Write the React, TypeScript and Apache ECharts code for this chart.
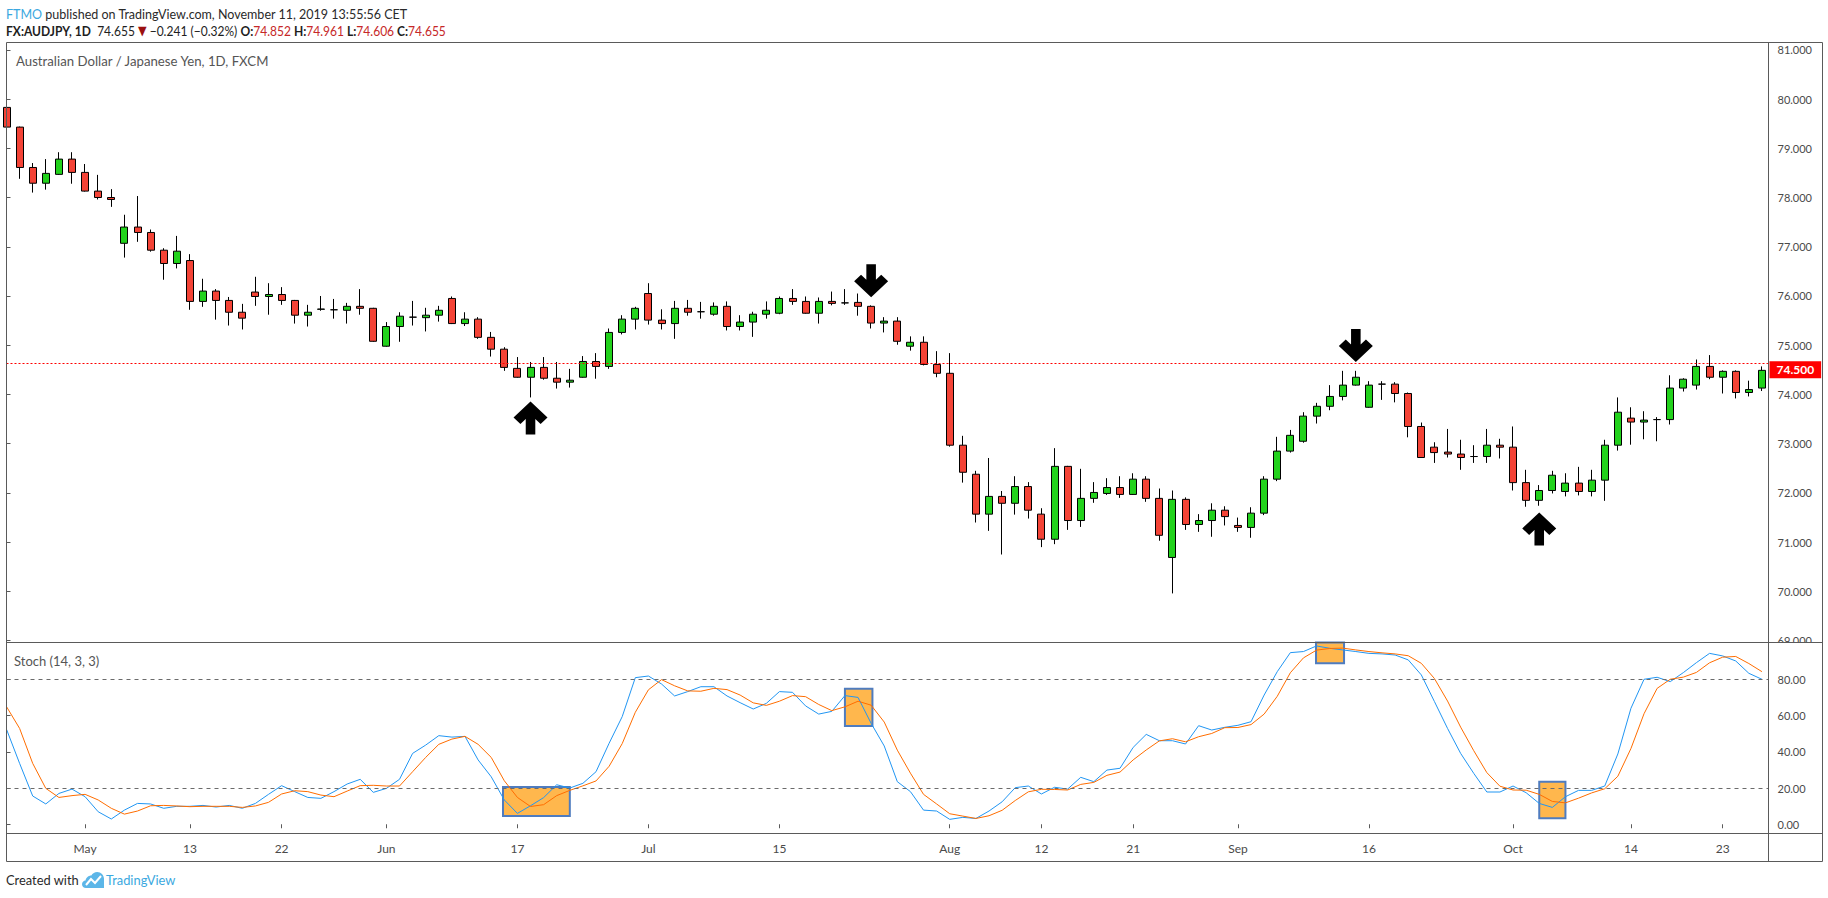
import React, { useEffect, useRef } from 'react';
import * as echarts from 'echarts';

// ---------- data ----------
const tickIdx = [6, 14, 21, 29, 39, 49, 59, 72, 79, 86, 94, 104, 115, 124, 131];
const tickText = ['May', '13', '22', 'Jun', '17', 'Jul', '15', 'Aug', '12', '21', 'Sep', '16', 'Oct', '14', '23'];

const opens = [79.83,79.43,78.61,78.29,78.47,78.78,78.51,78.13,78.00,77.07,77.40,77.29,76.93,76.66,76.72,75.89,76.10,75.91,75.67,76.08,75.99,76.03,75.91,75.61,75.73,75.72,75.71,75.79,75.75,74.98,75.38,75.57,75.56,75.61,75.95,75.44,75.53,75.16,74.92,74.53,74.35,74.55,74.33,74.25,74.35,74.67,74.57,75.26,75.53,76.05,75.51,75.44,75.75,75.68,75.63,75.79,75.38,75.47,75.63,75.65,75.95,75.89,75.65,75.89,75.86,75.87,75.79,75.45,75.49,74.98,75.06,74.61,74.43,72.97,72.38,71.57,71.93,71.79,72.13,71.57,71.06,72.54,71.44,71.89,71.99,72.11,71.97,72.28,71.89,70.69,71.87,71.36,71.44,71.65,71.34,71.30,71.59,72.28,72.85,73.05,73.56,73.76,73.96,74.19,73.74,74.21,74.21,74.02,73.35,72.93,72.83,72.79,72.74,72.74,72.97,72.93,72.21,71.85,72.05,72.03,72.20,72.03,72.26,72.97,73.52,73.44,73.49,73.49,74.13,74.19,74.57,74.35,74.47,74.04,74.13];
const closes = [79.43,78.61,78.29,78.49,78.78,78.51,78.13,78.00,77.96,77.40,77.29,76.93,76.66,76.91,75.89,76.10,75.91,75.67,75.55,75.99,76.03,75.91,75.61,75.67,75.735,75.72,75.79,75.75,75.08,75.38,75.59,75.57,75.61,75.71,75.44,75.53,75.16,74.92,74.55,74.35,74.55,74.33,74.25,74.29,74.67,74.57,75.26,75.53,75.75,75.51,75.44,75.75,75.67,75.68,75.79,75.38,75.47,75.63,75.71,75.95,75.89,75.65,75.89,75.85,75.86,75.79,75.45,75.49,75.08,75.06,74.61,74.43,72.97,72.42,71.57,71.93,71.79,72.13,71.65,71.06,72.54,71.44,71.89,72.01,72.11,71.97,72.28,71.89,71.14,71.87,71.36,71.44,71.65,71.52,71.30,71.59,72.28,72.85,73.17,73.56,73.76,73.96,74.19,74.35,74.19,74.21,74.02,73.35,72.72,72.82,72.79,72.72,72.74,72.97,72.93,72.21,71.85,72.05,72.36,72.20,72.03,72.26,72.97,73.64,73.44,73.48,73.49,74.13,74.31,74.57,74.35,74.47,74.04,74.10,74.49];
const lows = [79.42,78.38,78.10,78.16,78.46,78.28,78.12,77.96,77.81,76.78,77.10,76.90,76.33,76.56,75.72,75.78,75.52,75.40,75.32,75.80,75.62,75.82,75.44,75.38,75.70,75.54,75.44,75.62,75.07,74.97,75.07,75.40,75.28,75.48,75.43,75.39,75.13,74.77,74.48,74.34,73.94,74.30,74.12,74.14,74.34,74.32,74.52,75.22,75.32,75.42,75.32,75.13,75.60,75.54,75.60,75.30,75.30,75.17,75.54,75.63,75.82,75.64,75.44,75.81,75.82,75.60,75.34,75.26,75.01,74.89,74.59,74.35,72.94,72.21,71.40,71.23,70.75,71.56,71.48,70.90,70.96,71.25,71.31,71.80,71.96,71.90,71.96,71.82,71.03,69.96,71.25,71.21,71.11,71.34,71.21,71.09,71.55,72.24,72.82,73.02,73.41,73.68,73.88,74.18,73.73,73.89,73.84,73.13,72.71,72.61,72.72,72.47,72.61,72.61,72.70,72.05,71.72,71.74,71.99,71.93,71.95,71.93,71.84,72.86,72.98,73.09,73.05,73.39,74.06,74.10,74.31,74.02,73.92,73.96,74.07];
const highs = [79.86,79.44,78.70,78.78,78.92,78.92,78.68,78.46,78.17,77.65,78.03,77.35,76.97,77.22,76.85,76.35,76.14,75.98,75.84,76.39,76.26,76.18,75.92,75.82,76.00,75.94,75.86,76.14,75.76,75.47,75.67,75.90,75.76,75.80,75.99,75.67,75.57,75.27,74.96,74.76,74.66,74.76,74.66,74.52,74.78,74.84,75.34,75.61,75.78,76.26,75.73,75.90,75.92,75.88,75.87,75.89,75.61,75.68,75.89,75.99,76.14,75.99,75.97,76.09,76.14,76.05,75.81,75.57,75.57,75.18,75.18,74.88,74.84,73.16,72.45,72.71,72.04,72.34,72.22,71.69,72.91,72.55,72.49,72.22,72.30,72.34,72.40,72.34,72.09,72.05,71.91,71.57,71.79,71.73,71.50,71.71,72.34,73.14,73.28,73.64,73.83,74.19,74.48,74.48,74.27,74.27,74.25,74.04,73.43,73.03,73.30,73.08,72.97,73.30,73.10,73.35,72.47,72.16,72.45,72.40,72.53,72.47,73.08,73.94,73.74,73.66,73.54,74.39,74.33,74.71,74.80,74.49,74.49,74.28,74.57];

const stochK = [52.4,33.6,15.6,11.2,17.0,19.4,15.2,6.9,2.9,7.8,11.5,11.2,8.8,9.9,9.9,10.4,9.5,10.4,8.8,11.5,16.5,21.3,18.0,14.8,14.3,18.0,22.2,24.8,17.6,19.8,24.8,39.1,43.7,48.9,48.1,48.5,35.5,26.2,13.4,6.0,10.2,14.7,21.8,20.0,22.6,29.0,44.7,59.4,80.9,81.8,77.4,70.8,73.2,75.9,75.9,70.8,67.1,63.6,66.7,73.2,72.8,65.3,60.8,62.3,71.0,70.0,55.7,43.2,23.5,18.0,7.8,7.3,2.7,3.8,3.2,7.3,12.4,20.2,21.1,16.7,20.4,19.4,25.9,23.5,29.9,30.9,42.4,49.6,46.1,46.1,44.3,54.4,52.0,53.5,54.6,56.6,71.3,84.2,94.7,95.3,98.4,97.1,96.2,95.3,94.3,94.0,93.4,90.7,82.4,67.7,52.9,39.1,28.1,17.8,17.8,21.1,17.4,11.5,9.3,15.2,18.7,18.7,21.1,38.8,64.0,80.0,81.1,78.7,83.7,89.2,94.3,92.9,90.1,83.3,80.0];
const stochD = [64.9,52.9,33.6,19.8,14.8,15.8,16.5,13.4,8.8,5.6,7.3,10.2,10.4,10.1,9.7,9.9,9.9,9.9,9.3,10.1,12.1,16.7,18.5,18.0,16.1,15.2,18.3,21.3,21.5,21.1,21.1,29.0,36.9,44.1,47.0,48.5,44.1,36.9,24.0,14.8,9.8,10.8,15.8,18.7,21.2,23.9,32.0,44.5,61.8,74.2,79.8,76.4,73.6,73.4,75.0,74.3,71.3,67.0,65.6,67.9,71.0,70.4,66.1,62.7,64.8,67.9,65.7,56.4,40.9,28.2,16.5,11.2,5.8,4.5,3.2,4.7,7.7,13.1,17.9,19.3,19.2,18.9,22.0,23.1,27.0,28.8,35.5,41.0,46.0,47.2,45.5,48.3,50.1,53.3,53.4,55.0,60.8,70.6,83.6,91.8,96.1,97.0,97.2,96.2,95.3,94.6,94.0,93.0,88.8,80.4,68.0,53.6,40.6,28.5,21.0,18.9,18.8,16.5,12.6,11.8,14.4,17.3,19.6,26.5,41.8,61.0,75.0,80.0,81.2,83.8,89.1,92.2,92.6,88.7,84.2];

const priceTicks = [69, 70, 71, 72, 73, 74, 75, 76, 77, 78, 79, 80, 81];
const stochTicks = [0, 20, 40, 60, 80];
const stochLevels = [80, 20];
const lastPrice = 74.64;
const priceTag = 74.5;
// arrow annotations: [bar index, price]
const upArrows = [[40, 73.52], [117, 71.27]];
const downArrows = [[66, 76.31], [103, 74.995]];
// highlighted boxes on the oscillator: [fromIndex, topValue, toIndex, bottomValue]
const boxes = [[37.9, 20.5, 43.0, 4.5], [64.0, 74.8, 66.1, 54.2], [99.96, 100.4, 102.1, 88.8], [117.0, 23.5, 119.0, 3.3]];

// ---------- styling ----------
const FONT = "Lato, 'Liberation Sans', Arial, sans-serif";
const AXIS_TXT = '#4a4a4a';
const FRAME = '#5a5a5a';
const UP = '#22d21c';
const DOWN = '#f44336';
const K_COLOR = '#2196f3';
const D_COLOR = '#ff6d00';

const UP_ARROW = 'path://M17 0 L33 16 L26.5 22.5 L21.5 17.5 L21.5 33 L12.5 33 L12.5 17.5 L7.5 22.5 L1 16 Z';
const DOWN_ARROW = 'path://M17 33 L33 17 L26.5 10.5 L21.5 15.5 L21.5 0 L12.5 0 L12.5 15.5 L7.5 10.5 L1 17 Z';

const LOGO_D = 'M4 16 C1.6 16 0 14.3 0 12.2 C0 10.2 1.5 8.6 3.5 8.5 C4 5.5 6.4 3.4 9.3 3.4 C10.6 1.3 12.8 0 15.2 0 C18.9 0 22 3 22 6.8 L22 16 Z';
let registered = false;
function registerShapes() {
  if (registered) return;
  registered = true;
  echarts.graphic.registerShape('tvlogo', echarts.graphic.extendPath(LOGO_D, {}) as any);
}

const GRID_LEFT = 6.5;
const GRID_RIGHT = 1768.5;
const X_MAX = 134.5;

export default function App() {
  const ref = useRef<HTMLDivElement>(null);
  useEffect(() => {
    if (!ref.current) return;
    registerShapes();
    const chart = echarts.init(ref.current, null, { renderer: 'svg' });
    const candleData = opens.map((o, i) => [i, o, closes[i], lows[i], highs[i]]);
    const kData = stochK.map((v, i) => [i, v]);
    const dData = stochD.map((v, i) => [i, v]);
    const labelFor = (v: number) => {
      const j = tickIdx.indexOf(Math.round(v));
      return j >= 0 ? tickText[j] : '';
    };
    const gw = GRID_RIGHT - GRID_LEFT;
    const option: any = {
      animation: false,
      backgroundColor: '#ffffff',
      textStyle: { fontFamily: FONT },
      grid: [
        { left: GRID_LEFT, top: 42.5, width: gw, height: 600 },
        { left: GRID_LEFT, top: 642.5, width: gw, height: 191 },
      ],
      xAxis: [
        { type: 'value', gridIndex: 0, min: 0, max: X_MAX, show: false, splitLine: { show: false } },
        {
          type: 'value', gridIndex: 1, min: 0, max: X_MAX,
          axisLine: { show: false }, splitLine: { show: false },
          axisTick: { show: true, customValues: tickIdx, length: 4, lineStyle: { color: FRAME } },
          axisLabel: { customValues: tickIdx, formatter: labelFor, color: AXIS_TXT, fontSize: 12, margin: 9, fontFamily: FONT },
        },
      ],
      yAxis: [
        {
          type: 'value', gridIndex: 0, position: 'right', min: 68.963, max: 81.148,
          axisLine: { show: false }, splitLine: { show: false },
          axisTick: { show: true, customValues: priceTicks, length: 4, lineStyle: { color: FRAME } },
          axisLabel: { customValues: priceTicks, formatter: (v: number) => v.toFixed(3), color: AXIS_TXT, fontSize: 11, margin: 9, fontFamily: FONT },
        },
        {
          type: 'value', gridIndex: 1, position: 'right', min: -5.1, max: 100.3,
          axisLine: { show: false }, splitLine: { show: false },
          axisTick: { show: true, customValues: stochTicks, length: 4, lineStyle: { color: FRAME } },
          axisLabel: { customValues: stochTicks, formatter: (v: number) => v.toFixed(2), color: AXIS_TXT, fontSize: 11, margin: 9, fontFamily: FONT },
        },
      ],
      series: [
        {
          type: 'candlestick', xAxisIndex: 0, yAxisIndex: 0,
          data: candleData,
          encode: { x: 0, y: [1, 2, 3, 4] },
          barWidth: 7.5,
          clip: true,
          itemStyle: { color: UP, color0: DOWN, borderColor: '#000', borderColor0: '#000', borderColorDoji: '#000', borderWidth: 1 },
          markLine: {
            silent: true, symbol: ['none', 'none'], animation: false,
            data: [
              { yAxis: lastPrice, lineStyle: { color: '#ff0000', type: [2, 2], width: 1 }, label: { show: false } },
              {
                yAxis: priceTag, lineStyle: { color: 'rgba(255,255,255,0)', width: 1 },
                label: {
                  show: true, position: 'end', distance: 1, formatter: priceTag.toFixed(3),
                  color: '#fff', fontWeight: 'bold', fontSize: 12, fontFamily: FONT,
                  backgroundColor: '#ff0000', padding: [3, 7, 2, 7],
                },
              },
            ],
          },
          markPoint: {
            silent: true, label: { show: false }, itemStyle: { color: '#000' },
            data: [
              ...upArrows.map(([i, p]) => ({ coord: [i, p], symbol: UP_ARROW, symbolSize: [34, 33] })),
              ...downArrows.map(([i, p]) => ({ coord: [i, p], symbol: DOWN_ARROW, symbolSize: [34, 33] })),
            ],
          },
        },
        {
          type: 'line', name: '%K', xAxisIndex: 1, yAxisIndex: 1, data: kData,
          showSymbol: false, symbol: 'none', lineStyle: { color: K_COLOR, width: 1 }, z: 3,
          markLine: {
            silent: true, symbol: ['none', 'none'], label: { show: false },
            lineStyle: { color: '#6b6b6b', type: [4, 4], width: 1 },
            data: stochLevels.map((v) => ({ yAxis: v })),
          },
          markArea: {
            silent: true,
            itemStyle: { color: '#ffb74d', borderColor: '#4f7cbf', borderWidth: 2 },
            data: boxes.map(([x1, y1, x2, y2]) => [{ coord: [x1, y1] }, { coord: [x2, y2] }]),
          },
        },
        {
          type: 'line', name: '%D', xAxisIndex: 1, yAxisIndex: 1, data: dData,
          showSymbol: false, symbol: 'none', lineStyle: { color: D_COLOR, width: 1 }, z: 4,
        },
      ],
      graphic: [
        // cover lower part of clipped 69.000 label
        { type: 'rect', z: 100, shape: { x: 1769, y: 643, width: 53, height: 12 }, style: { fill: '#fff' } },
        // frame
        { type: 'rect', z: 110, shape: { x: 6.5, y: 42.5, width: 1816, height: 819 }, style: { fill: 'none', stroke: FRAME, lineWidth: 1 } },
        { type: 'line', z: 110, shape: { x1: 6.5, y1: 642.5, x2: 1822.5, y2: 642.5 }, style: { stroke: FRAME, lineWidth: 1 } },
        { type: 'line', z: 110, shape: { x1: 6.5, y1: 833.5, x2: 1822.5, y2: 833.5 }, style: { stroke: FRAME, lineWidth: 1 } },
        { type: 'line', z: 110, shape: { x1: 1768.5, y1: 42.5, x2: 1768.5, y2: 861.5 }, style: { stroke: FRAME, lineWidth: 1 } },
        // header
        {
          type: 'text', z: 120, x: 6, y: 14, scaleX: 0.895,
          style: {
            text: '{a|FTMO}{b| published on TradingView.com, November 11, 2019 13:55:56 CET}',
            verticalAlign: 'middle',
            rich: {
              a: { fill: '#3ba8e0', fontSize: 14, fontFamily: FONT },
              b: { fill: '#2a2a2a', fontSize: 14, fontFamily: FONT },
            },
          },
        },
        {
          type: 'text', z: 120, x: 6, y: 31, scaleX: 0.86,
          style: {
            text: '{k|FX:AUDJPY, 1D}{n|  74.655 }{t|▼}{n| −0.241 (−0.32%) }{k|O:}{r|74.852}{k| H:}{r|74.961}{k| L:}{r|74.606}{k| C:}{r|74.655}',
            verticalAlign: 'middle',
            rich: {
              k: { fill: '#1e1e1e', fontSize: 14, fontWeight: 'bold', fontFamily: FONT },
              n: { fill: '#1e1e1e', fontSize: 14, fontFamily: FONT },
              t: { fill: '#9b1010', fontSize: 13, fontFamily: "'DejaVu Sans', sans-serif" },
              r: { fill: '#c62828', fontSize: 14, fontFamily: FONT },
            },
          },
        },
        {
          type: 'text', z: 120, x: 16, y: 61, scaleX: 0.944,
          style: { text: 'Australian Dollar / Japanese Yen, 1D, FXCM', fill: '#555', fontSize: 14, fontFamily: FONT, verticalAlign: 'middle' },
        },
        {
          type: 'text', z: 120, x: 14, y: 661,
          style: { text: 'Stoch (14, 3, 3)', fill: '#555', fontSize: 13, fontFamily: FONT, verticalAlign: 'middle' },
        },
        // footer
        {
          type: 'text', z: 120, x: 6, y: 880, scaleX: 0.92,
          style: { text: 'Created with', fill: '#2a2a2a', fontSize: 14, fontFamily: FONT, verticalAlign: 'middle' },
        },
        { type: 'tvlogo', z: 120, x: 82, y: 872, style: { fill: '#5cb6e8' } },
        {
          type: 'polyline', z: 121,
          shape: { points: [[86, 885], [91, 879], [95, 883], [101, 876]] },
          style: { stroke: '#fff', lineWidth: 2, fill: 'none' },
        },
        {
          type: 'text', z: 120, x: 106, y: 880, scaleX: 0.92,
          style: { text: 'TradingView', fill: '#3ba8e0', fontSize: 14, fontFamily: FONT, verticalAlign: 'middle' },
        },
      ],
    };
    chart.setOption(option);
    return () => chart.dispose();
  }, []);
  return (
    <div
      ref={ref}
      style={{ position: 'absolute', left: 0, top: 0, width: 1828, height: 898, background: '#fff' }}
    />
  );
}
